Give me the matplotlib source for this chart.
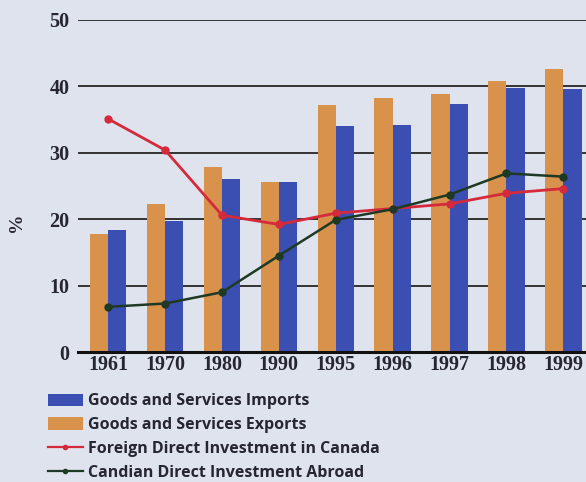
import matplotlib
matplotlib.use("Agg")
import matplotlib.pyplot as plt
import numpy as np

years = ["1961", "1970", "1980", "1990", "1995", "1996", "1997", "1998", "1999"]
imports = [18.4, 19.7, 26.0, 25.6, 34.0, 34.2, 37.3, 39.7, 39.6]
exports = [17.8, 22.3, 27.8, 25.6, 37.2, 38.2, 38.9, 40.8, 42.6]
fdi_canada = [35.1, 30.4, 20.6, 19.2, 20.9, 21.6, 22.3, 23.9, 24.6]
cdi_abroad = [6.8, 7.3, 9.0, 14.5, 19.9, 21.5, 23.7, 26.9, 26.4]
yticks = [0, 10, 20, 30, 40, 50]

bg = "#dfe3ed"
c_imp = "#3b4fb2"
c_exp = "#d8924c"
c_red = "#d42a3c"
c_grn = "#1e3a24"
c_txt = "#262632"

fig = plt.figure(figsize=(5.86, 4.82), dpi=100, facecolor=bg)
ax = fig.add_axes([0.1331, 0.2697, 0.8866, 0.689], facecolor=bg)

x = np.arange(len(years))
w = 0.32
b_imp = ax.bar(x + w / 2, imports, width=w, color=c_imp, zorder=2, label="Goods and Services Imports")
b_exp = ax.bar(x - w / 2, exports, width=w, color=c_exp, zorder=2, label="Goods and Services Exports")
l_red, = ax.plot(x, fdi_canada, color=c_red, lw=2, marker="o", ms=5, zorder=3,
                 label="Foreign Direct Investment in Canada")
l_grn, = ax.plot(x, cdi_abroad, color=c_grn, lw=1.8, marker="o", ms=5, zorder=3,
                 label="Candian Direct Investment Abroad")

ax.set_xlim(-0.53, 8.6)
ax.set_ylim(0, 50)
ax.set_yticks(yticks)
ax.set_xticks(x)
tfont = dict(family="Liberation Serif", fontweight="bold", fontsize=14.5, color=c_txt)
ax.set_xticklabels(years, **tfont)
ax.set_yticklabels([str(v) for v in yticks], **tfont)
ax.tick_params(axis="y", length=0, pad=6)
ax.tick_params(axis="x", length=0, pad=2)
for v in yticks[1:]:
    ax.axhline(v, color="#333333", lw=1.4, zorder=1)
for s in ["top", "right", "left"]:
    ax.spines[s].set_visible(False)
ax.spines["bottom"].set_linewidth(2.2)
ax.spines["bottom"].set_color("#111111")
ax.spines["bottom"].set_zorder(4)
ax.set_ylabel("%", family="Liberation Serif", fontsize=14, fontweight="bold", color=c_txt)
ax.yaxis.set_label_coords(-0.102, 0.39)

leg = fig.legend(handles=[b_imp, b_exp, l_red, l_grn],
                 loc="lower left", bbox_to_anchor=(0.057, -0.028),
                 frameon=False, handlelength=2.2, handleheight=0.8,
                 handletextpad=0.3, labelspacing=0.5,
                 prop={"family": "Open Sans", "weight": "bold", "size": 11.5})
for t in leg.get_texts():
    t.set_color(c_txt)
for h in leg.legend_handles[2:]:
    h.set_markersize(3)
    h.set_linewidth(1.6)

fig.savefig("out.png", dpi=100, facecolor=bg)
